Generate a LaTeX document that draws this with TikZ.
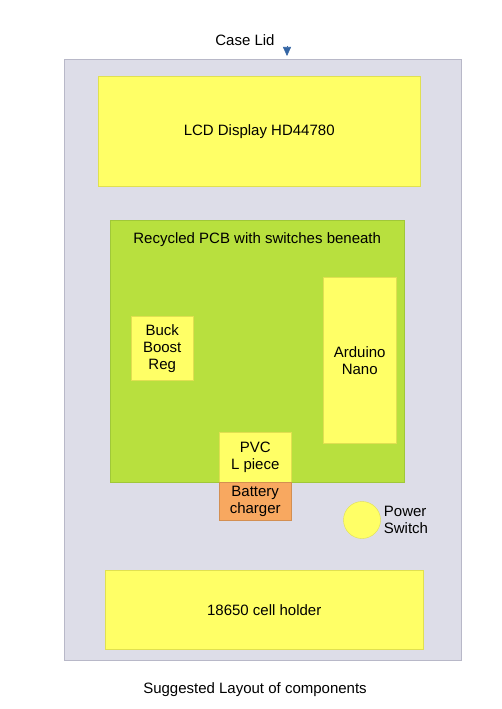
\documentclass[tikz,border=0pt]{standalone}
\usepackage{fontspec}
\setmainfont{Liberation Sans}
\usetikzlibrary{positioning,arrows.meta}
\definecolor{casebg}{HTML}{DDDDE8}
\definecolor{caseline}{HTML}{B8B8C8}
\definecolor{part}{HTML}{FFFF66}
\definecolor{partline}{HTML}{E0E050}
\definecolor{pcb}{HTML}{B8E03E}
\definecolor{pcbline}{HTML}{A0C838}
\definecolor{chg}{HTML}{F8A860}
\definecolor{lidblue}{HTML}{3465A4}

\begin{document}
\begin{tikzpicture}[
  x=1pt,y=-1pt,
  font=\fontsize{15}{17}\selectfont,
  box/.style={draw=partline,fill=part,inner sep=0pt,align=center,anchor=north west},
  >={Triangle[length=9pt,width=8pt]}
]
\useasboundingbox[fill=white] (0,0) rectangle (501,709);
\node[draw=caseline,fill=casebg,minimum width=397pt,minimum height=601pt,inner sep=0pt,anchor=north west] (case) at (64,59) {};
\node[box,minimum width=322pt,minimum height=110pt] (lcd) at (98,76) {LCD Display HD44780};
\node[box,draw=pcbline,fill=pcb,minimum width=294pt,minimum height=262pt] (board) at (110,220) {};
\node[below=9pt of board.north] (boardlbl) {Recycled PCB with switches beneath};
\node[box,minimum width=73pt,minimum height=166pt] (nano) at (323,277) {Arduino\\Nano};
\node[box,minimum width=62pt,minimum height=64pt] (buck) at (131,316) {Buck\\Boost\\Reg};
\node[box,minimum width=72pt,minimum height=50pt] (pvc) at (219,432) {PVC\\L piece};
\node[box,draw=chg!85!black,fill=chg,minimum width=72pt,minimum height=38pt] (charger) at (219,482) {Battery\\charger};
\node[circle,draw=partline,fill=part,minimum size=37pt,inner sep=0pt] (switch) at (362,520) {};
\node[right=3pt of switch,align=left,inner sep=0pt] (switchlbl) {Power\\Switch};
\node[box,minimum width=318pt,minimum height=79pt] (cell) at (105,570) {18650 cell holder};
\node (lid) at (245,40) {Case Lid};
\node (caption) at (255,690) {Suggested Layout of components};
\coordinate (lidtail) at (287,46);
\coordinate (lidtip) at (287,56);
\draw[->,lidblue,semithick] (lidtail) -- (lidtip);
\end{tikzpicture}
\end{document}
